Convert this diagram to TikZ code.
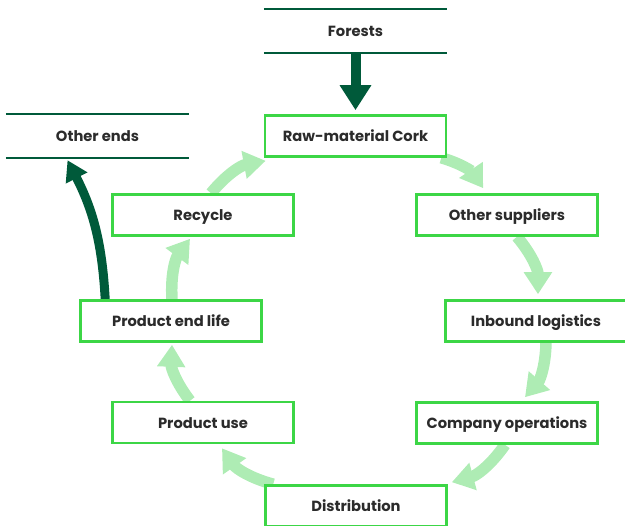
\documentclass[tikz,border=0pt]{standalone}
\usepackage{fontspec}
\setmainfont{Poppins}
\usetikzlibrary{arrows.meta,calc,backgrounds}
\definecolor{boxgreen}{HTML}{3CD646}
\definecolor{lightg}{HTML}{AEECB4}
\definecolor{darkg}{HTML}{005A3A}
\definecolor{txt}{HTML}{2B2B2B}
\begin{document}
\begin{tikzpicture}[x=1pt,y=-1pt,
  lbl/.style={font=\bfseries\fontsize{14.7}{17}\selectfont,text=txt,inner sep=0pt,text height=12pt,text depth=0.3pt,minimum width=183pt,minimum height=44pt},
  box/.style={lbl,draw=boxgreen,line width=2.6pt,minimum width=181pt,minimum height=41pt,fill=white},
  cyc/.style={draw=lightg,line width=11.5pt,-{Triangle[width=27pt,length=22pt]},bend left=20},
  dark/.style={draw=darkg,line width=10pt,-{Triangle[width=30pt,length=25pt]}},
  rule/.style={draw=darkg,line width=1.8pt}]
\useasboundingbox (0,0) rectangle (625,526);
\node[lbl] (forests) at (355.5,31) {Forests};
\node[lbl] (others) at (97.5,136) {Other ends};
\node[box] (raw) at (355.5,136) {Raw-material Cork};
\node[box] (rec) at (203,215) {Recycle};
\node[box] (sup) at (507,215) {Other suppliers};
\node[box] (inb) at (536,321) {Inbound logistics};
\node[box] (comp) at (507,423) {Company operations};
\node[box] (dist) at (356,506) {Distribution};
\node[box] (use) at (203,422.5) {Product use};
\node[box] (end) at (171,321) {Product end life};
\draw[rule] (forests.north west) -- (forests.north east);
\draw[rule] (forests.south west) -- (forests.south east);
\draw[rule] (others.north west) -- (others.north east);
\draw[rule] (others.south west) -- (others.south east);
\begin{scope}[on background layer]
\draw[cyc] ($(raw.south east)+(-6,0)$) to ($(sup.north west)+(68,-5)$);
\draw[cyc] ($(sup.south)+(10,0)$) to ($(inb.north)+(2,-5)$);
\draw[cyc] ($(inb.south)+(10,0)$) to ($(comp.north)+(18,-4)$);
\draw[cyc] ($(comp.south)+(-2,0)$) to ($(dist.north east)+(4,-2)$);
\draw[cyc] ($(dist.north west)+(9,0)$) to ($(use.south)+(19,4)$);
\draw[cyc] ($(use.north)+(-13,0)$) to ($(end.south)+(1,2)$);
\draw[cyc] ($(end.north)+(1,0)$) to ($(rec.south)+(-13,2)$);
\draw[cyc] ($(rec.north)+(8,0)$) to ($(raw.south west)+(2,3)$);
\draw[dark] (forests.south) -- ($(raw.north)+(0,-4)$);
\draw[dark,line width=9pt,-{Triangle[width=23pt,length=20pt]}] ($(end.north west)+(26,0)$) to[bend right=12] ($(others.south)+(-30,2)$);
\end{scope}
\end{tikzpicture}
\end{document}
